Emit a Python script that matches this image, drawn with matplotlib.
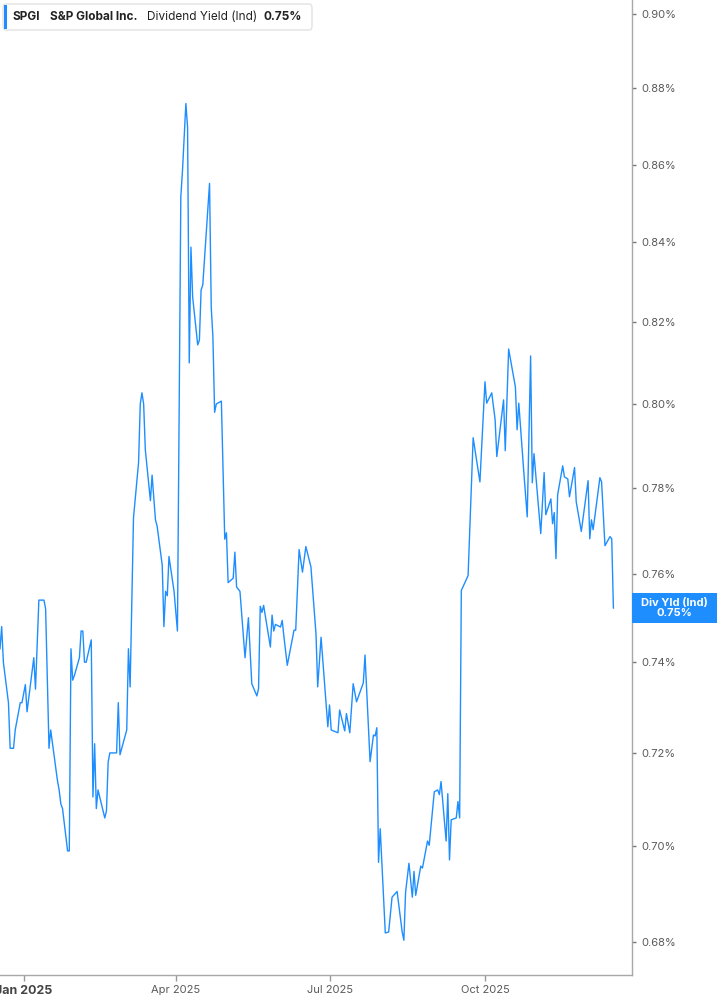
import pandas as pd
import matplotlib
matplotlib.use("Agg")
import matplotlib.pyplot as plt
import matplotlib.dates as mdates
from matplotlib.ticker import FixedLocator, FuncFormatter, NullLocator
from matplotlib.patches import FancyBboxPatch, Rectangle

plt.rcParams['font.family'] = ['Inter', 'DejaVu Sans']

# dividend yield (ind), %
dates = [
    "2024-12-18", "2024-12-19", "2024-12-20", "2024-12-23", "2024-12-24", "2024-12-26", "2024-12-27", "2024-12-30", "2024-12-31",
    "2025-01-02", "2025-01-03", "2025-01-07", "2025-01-08", "2025-01-10", "2025-01-13", "2025-01-14", "2025-01-16", "2025-01-17",
    "2025-01-21", "2025-01-22", "2025-01-23", "2025-01-24", "2025-01-27", "2025-01-28", "2025-01-29", "2025-01-30", "2025-01-31",
    "2025-02-03", "2025-02-04", "2025-02-05", "2025-02-06", "2025-02-07", "2025-02-10", "2025-02-11", "2025-02-12", "2025-02-13", "2025-02-14",
    "2025-02-18", "2025-02-19", "2025-02-20", "2025-02-21", "2025-02-25", "2025-02-26", "2025-02-27",
    "2025-03-03", "2025-03-04", "2025-03-05", "2025-03-07", "2025-03-10", "2025-03-11", "2025-03-12", "2025-03-13", "2025-03-14",
    "2025-03-17", "2025-03-18", "2025-03-20", "2025-03-21", "2025-03-24", "2025-03-25", "2025-03-26", "2025-03-27", "2025-03-28", "2025-03-31",
    "2025-04-02", "2025-04-04", "2025-04-05", "2025-04-07", "2025-04-08", "2025-04-09", "2025-04-10", "2025-04-11",
    "2025-04-14", "2025-04-15", "2025-04-16", "2025-04-17", "2025-04-21", "2025-04-22", "2025-04-23", "2025-04-24", "2025-04-25", "2025-04-28",
    "2025-04-30", "2025-05-01", "2025-05-02", "2025-05-05", "2025-05-06", "2025-05-07", "2025-05-09", "2025-05-12", "2025-05-14", "2025-05-16",
    "2025-05-19", "2025-05-20", "2025-05-21", "2025-05-22", "2025-05-23", "2025-05-27", "2025-05-28", "2025-05-29", "2025-05-30",
    "2025-06-02", "2025-06-03", "2025-06-04", "2025-06-06", "2025-06-09", "2025-06-10", "2025-06-11", "2025-06-13", "2025-06-15", "2025-06-17", "2025-06-20",
    "2025-06-23", "2025-06-24", "2025-06-26", "2025-06-30", "2025-07-01", "2025-07-02", "2025-07-06", "2025-07-07", "2025-07-10", "2025-07-11", "2025-07-13",
    "2025-07-15", "2025-07-17", "2025-07-21", "2025-07-22", "2025-07-25", "2025-07-27", "2025-07-28", "2025-07-29", "2025-07-30", "2025-07-31",
    "2025-08-03", "2025-08-05", "2025-08-07", "2025-08-10", "2025-08-13", "2025-08-14", "2025-08-15", "2025-08-17", "2025-08-19", "2025-08-20", "2025-08-21",
    "2025-08-24", "2025-08-25", "2025-08-28", "2025-08-29", "2025-09-01", "2025-09-03", "2025-09-04", "2025-09-05", "2025-09-08", "2025-09-09", "2025-09-10",
    "2025-09-11", "2025-09-14", "2025-09-15", "2025-09-16", "2025-09-17", "2025-09-21", "2025-09-24", "2025-09-28",
    "2025-10-01", "2025-10-02", "2025-10-05", "2025-10-07", "2025-10-08", "2025-10-12", "2025-10-13", "2025-10-15", "2025-10-19", "2025-10-20", "2025-10-21",
    "2025-10-24", "2025-10-26", "2025-10-28", "2025-10-29", "2025-10-30", "2025-11-03", "2025-11-05", "2025-11-06", "2025-11-09", "2025-11-10", "2025-11-11",
    "2025-11-12", "2025-11-13", "2025-11-16", "2025-11-17", "2025-11-19", "2025-11-20", "2025-11-23", "2025-11-24", "2025-11-27",
    "2025-12-01", "2025-12-02", "2025-12-03", "2025-12-04", "2025-12-08", "2025-12-09", "2025-12-11", "2025-12-14", "2025-12-15", "2025-12-16",
]
yields = [
    0.743, 0.748, 0.740, 0.731, 0.721, 0.721, 0.725, 0.731, 0.731,
    0.735, 0.729, 0.741, 0.734, 0.754, 0.754, 0.752, 0.721, 0.725,
    0.714, 0.712, 0.709, 0.708, 0.699, 0.699, 0.743, 0.736, 0.737,
    0.741, 0.747, 0.747, 0.740, 0.740, 0.745, 0.7105, 0.722, 0.708, 0.712,
    0.706, 0.7075, 0.718, 0.720, 0.720, 0.731, 0.7196,
    0.725, 0.743, 0.7345, 0.773, 0.786, 0.800, 0.8027, 0.800, 0.789,
    0.777, 0.783, 0.7725, 0.771, 0.762, 0.748, 0.756, 0.755, 0.764, 0.756,
    0.747, 0.8516, 0.8585, 0.876, 0.8697, 0.810, 0.8388, 0.8263,
    0.8144, 0.8156, 0.828, 0.8293, 0.8551, 0.8238, 0.8163, 0.798, 0.800, 0.8007,
    0.768, 0.7695, 0.758, 0.759, 0.765, 0.757, 0.756, 0.741, 0.750, 0.7352,
    0.7325, 0.7341, 0.7526, 0.7512, 0.7528, 0.7434, 0.7506, 0.747, 0.7485,
    0.7479, 0.7494, 0.7458, 0.7393, 0.7452, 0.7472, 0.7472, 0.7656, 0.7604, 0.7663, 0.7616,
    0.7463, 0.7345, 0.7456, 0.7257, 0.7305, 0.725, 0.7244, 0.7294, 0.7248, 0.7286, 0.7244,
    0.7352, 0.7312, 0.7354, 0.7416, 0.7181, 0.7239, 0.7237, 0.7255, 0.6966, 0.7037,
    0.6819, 0.6821, 0.6893, 0.6905, 0.6821, 0.6804, 0.6903, 0.6964, 0.6893, 0.6947, 0.6897,
    0.6958, 0.6954, 0.7011, 0.7002, 0.7116, 0.712, 0.711, 0.7138, 0.7011, 0.7112, 0.6971,
    0.7056, 0.706, 0.7095, 0.706, 0.7562, 0.7596, 0.7919, 0.7814,
    0.8054, 0.8002, 0.8027, 0.7962, 0.7874, 0.801, 0.7888, 0.8134, 0.8041, 0.7938, 0.8002,
    0.7836, 0.7732, 0.8117, 0.7812, 0.7881, 0.7693, 0.7836, 0.7737, 0.7774, 0.7716, 0.7742,
    0.7635, 0.7784, 0.7852, 0.7826, 0.7821, 0.7779, 0.7848, 0.7767, 0.7698,
    0.7817, 0.7681, 0.7725, 0.7702, 0.7824, 0.7814, 0.7665, 0.7686, 0.7681, 0.7522,
]

y_ticks = [0.68, 0.70, 0.72, 0.74, 0.76, 0.78, 0.80, 0.82, 0.84, 0.86, 0.88, 0.90]
x_tick_dates = ["2025-01-01", "2025-04-01", "2025-07-01", "2025-10-01"]
x_tick_labels = ["Jan 2025", "Apr 2025", "Jul 2025", "Oct 2025"]

ticker = "SPGI"
company = "S&P Global Inc."
metric = "Dividend Yield (Ind)"

blue = "#1E8EFF"
W, H = 717, 1005

fig = plt.figure(figsize=(W / 100, H / 100), dpi=100)
ax = fig.add_axes([0, 30 / H, 632 / W, 975 / H])

x = pd.to_datetime(dates)
ax.plot(x, yields, color=blue, lw=1.0)

ax.set_yscale("log")
ax.set_ylim(0.6733, 0.9038)
ax.set_xlim(pd.Timestamp("2024-12-18"), pd.Timestamp("2025-12-27"))

ax.yaxis.tick_right()
ax.yaxis.set_major_locator(FixedLocator(y_ticks))
ax.yaxis.set_minor_locator(NullLocator())
ax.yaxis.set_major_formatter(FuncFormatter(lambda v, p: f"{v:.2f}%"))
ax.tick_params(axis="y", length=3, width=1, color="#777", labelsize=8,
               labelcolor="#5a5a5a", pad=4)

ax.set_xticks(pd.to_datetime(x_tick_dates))
ax.set_xticklabels(x_tick_labels)
ax.xaxis.set_minor_locator(NullLocator())
ax.tick_params(axis="x", length=4, width=1, color="#999", labelsize=8,
               labelcolor="#5a5a5a", pad=3)
first = ax.get_xticklabels()[0]
first.set_fontweight("bold")
first.set_fontsize(9)
first.set_color("#444")

for s in ["left", "top"]:
    ax.spines[s].set_visible(False)
for s in ["right", "bottom"]:
    ax.spines[s].set_color("#a8a8a8")
    ax.spines[s].set_linewidth(1)

# header box
fig.patches.append(FancyBboxPatch((3 / W, 1 - 30 / H), 309 / W, 26 / H,
                                  boxstyle="round,pad=0,rounding_size=0.004",
                                  transform=fig.transFigure, fc="white", ec="#e2e2e2", lw=1))
fig.patches.append(Rectangle((4 / W, 1 - 29 / H), 3 / W, 24 / H,
                             transform=fig.transFigure, fc=blue, ec="none"))
ty = 1 - 17 / H
fig.text(13 / W, ty, ticker, fontsize=8.5, fontweight="bold", color="#222", va="center")
fig.text(50 / W, ty, company, fontsize=8.5, fontweight="bold", color="#222", va="center")
fig.text(147 / W, ty, metric, fontsize=8.5, color="#222", va="center")
fig.text(263 / W, ty, f"{yields[-1]:.2f}%", fontsize=8.5, fontweight="bold", color="#222", va="center")

# last value tag on the axis
y_disp = ax.transData.transform((mdates.date2num(x[-1]), yields[-1]))[1]
y_fig = fig.transFigure.inverted().transform((0, y_disp))[1]
fig.patches.append(Rectangle((632 / W, y_fig - 15 / H), 85 / W, 30 / H,
                             transform=fig.transFigure, fc=blue, ec="none"))
fig.text(674.5 / W, y_fig, f"Div Yld (Ind)\n{yields[-1]:.2f}%", fontsize=8,
         fontweight="bold", color="white", ha="center", va="center", linespacing=1.05)

fig.savefig("out.png", dpi=100)
